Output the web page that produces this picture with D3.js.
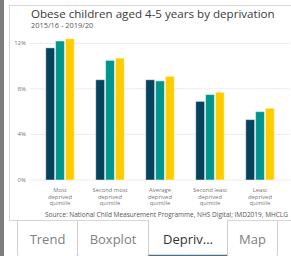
<!DOCTYPE html>
<html>
<head>
<meta charset="utf-8">
<script src="https://cdn.jsdelivr.net/npm/d3@7"></script>
<style>
    body { margin: 0; background: #fff; font-family: "Open Sans", sans-serif; }
    svg { display: block; }
</style>
</head>
<body>
<svg id="chart" width="291" height="256"></svg>
<script>
// --- Data ---
const categories = ['Most deprived quintile', 'Second most deprived quintile', 'Average deprived quintile',
    'Second least deprived quintile', 'Least deprived quintile'];
const categoryLines = [
    ['Most', 'deprived', 'quintile'],
    ['Second most', 'deprived', 'quintile'],
    ['Average', 'deprived', 'quintile'],
    ['Second least', 'deprived', 'quintile'],
    ['Least', 'deprived', 'quintile']
];
const seriesNames = ['2015/16', '2017/18', '2019/20'];
const seriesValues = [
    [11.6, 8.8, 8.8, 6.9, 5.3],
    [12.2, 10.5, 8.7, 7.5, 6.0],
    [12.4, 10.7, 9.1, 7.7, 6.3]
];
const yTicks = [0, 4, 8, 12];
const tabs = ['Trend', 'Boxplot', 'Depriv...', 'Map'];

const colors = ['#05435c', '#00968f', '#ffcc00'];

const svg = d3.select('#chart');

// --- Frame ---
svg.append('rect').attr('x', 0).attr('y', 0).attr('width', 4).attr('height', 256).attr('fill', '#7d7d7d');
svg.append('rect').attr('x', 9.5).attr('y', 5.5).attr('width', 290).attr('height', 215)
    .attr('fill', '#fff').attr('stroke', '#d6d6d6');

// --- Titles ---
svg.append('text').attr('x', 31).attr('y', 18).attr('font-size', 11.6).attr('fill', '#3a3a3a')
    .text('Obese children aged 4-5 years by deprivation');
svg.append('text').attr('x', 31).attr('y', 28).attr('font-size', 7.4).attr('fill', '#555')
    .text('2015/16 - 2019/20');

// --- Scales ---
const x0 = d3.scaleBand().domain(categories).range([35, 285]).paddingInner(0.43).paddingOuter(0.215);
const x1 = d3.scaleBand().domain(seriesNames).range([0, x0.bandwidth()]).paddingInner(0.1);
const y = d3.scaleLinear().domain([0, 12]).range([180, 43.3]);

// Gridlines + y labels
const yAxis = svg.append('g');
yAxis.selectAll('line').data(yTicks).enter().append('line')
    .attr('x1', 30).attr('x2', 290)
    .attr('y1', d => y(d)).attr('y2', d => y(d))
    .attr('stroke', '#ececec');
yAxis.selectAll('text').data(yTicks).enter().append('text')
    .attr('x', 26).attr('y', d => y(d) + 2)
    .attr('text-anchor', 'end').attr('font-size', 6).attr('fill', '#777')
    .text(d => d + '%');

// Bars
seriesNames.forEach((s, si) => {
    svg.append('g').selectAll('rect').data(seriesValues[si]).enter().append('rect')
        .attr('x', (d, i) => x0(categories[i]) + x1(s))
        .attr('y', d => y(d))
        .attr('width', x1.bandwidth())
        .attr('height', d => y(0) - y(d))
        .attr('fill', colors[si])
        .attr('stroke', 'rgba(255,255,255,0.45)')
        .attr('stroke-width', 1);
});

// X labels (one text per line)
const xl = svg.append('g');
categories.forEach((c, i) => {
    categoryLines[i].forEach((line, li) => {
        xl.append('text')
            .attr('x', x0(c) + x0.bandwidth() / 2).attr('y', 192 + li * 6.6)
            .attr('text-anchor', 'middle').attr('font-size', 5.8).attr('fill', '#777')
            .text(line);
    });
});

// Source
svg.append('text').attr('x', 45).attr('y', 216.5).attr('font-size', 6.5).attr('fill', '#555')
    .text('Source: National Child Measurement Programme, NHS Digital; IMD2019, MHCLG');

// --- Tabs ---
const tabX = [17, 77, 148, 227, 277];
const tabG = svg.append('g');
tabs.forEach((t, i) => {
    const active = i === 2;
    const x = tabX[i] + 0.5, w = tabX[i + 1] - tabX[i], top = 221, bottom = 258;
    tabG.append('path')
        .attr('d', `M${x},${top} V${bottom - 4} Q${x},${bottom} ${x + 4},${bottom} H${x + w - 4} Q${x + w},${bottom} ${x + w},${bottom - 4} V${top}`)
        .attr('fill', '#fff').attr('stroke', '#cfcfcf');
    if (active) {
        tabG.append('rect').attr('x', x + 0.5).attr('y', 219.5).attr('width', w - 1).attr('height', 3).attr('fill', '#fff');
        tabG.append('line').attr('x1', x).attr('x2', x + w).attr('y1', 255.5).attr('y2', 255.5)
            .attr('stroke', '#4a6f86').attr('stroke-width', 1.5);
    }
    tabG.append('text').attr('x', x + w / 2).attr('y', 244)
        .attr('text-anchor', 'middle').attr('font-size', 13)
        .attr('fill', active ? '#333' : '#808080')
        .text(t);
});
</script>
</body>
</html>
